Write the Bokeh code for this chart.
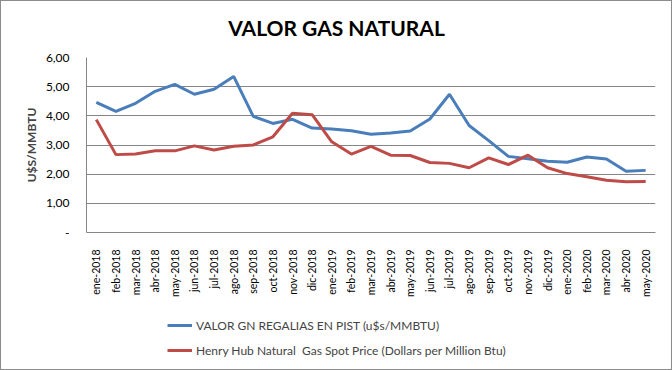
from bokeh.plotting import figure
from bokeh.models import FactorRange, Range1d, FixedTicker, Legend, LegendItem, ColumnDataSource, Label
from bokeh.layouts import column
from bokeh.embed import file_html
from bokeh.resources import INLINE
from math import pi

months = ["ene-2018", "feb-2018", "mar-2018", "abr-2018", "may-2018", "jun-2018", "jul-2018",
          "ago-2018", "sep-2018", "oct-2018", "nov-2018", "dic-2018", "ene-2019", "feb-2019",
          "mar-2019", "abr-2019", "may-2019", "jun-2019", "jul-2019", "ago-2019", "sep-2019",
          "oct-2019", "nov-2019", "dic-2019", "ene-2020", "feb-2020", "mar-2020", "abr-2020",
          "may-2020"]

valor_gn = [4.46, 4.15, 4.43, 4.84, 5.08, 4.74, 4.91, 5.35, 3.98, 3.74, 3.88, 3.58, 3.55, 3.49,
            3.37, 3.41, 3.48, 3.89, 4.74, 3.67, 3.15, 2.61, 2.53, 2.44, 2.41, 2.59, 2.52, 2.10,
            2.13]

henry_hub = [3.87, 2.67, 2.69, 2.80, 2.80, 2.97, 2.83, 2.96, 3.00, 3.28, 4.09, 4.04, 3.11, 2.69,
             2.95, 2.65, 2.64, 2.40, 2.37, 2.22, 2.56, 2.33, 2.65, 2.22, 2.02, 1.91, 1.79, 1.74,
             1.75]

y_ticks = [0, 1, 2, 3, 4, 5, 6]
y_tick_labels = ["-", "1,00", "2,00", "3,00", "4,00", "5,00", "6,00"]

chart_title = "VALOR GAS NATURAL"
y_title = "U$S/MMBTU"
series_names = ["VALOR GN REGALIAS EN PIST (u$s/MMBTU)",
                "Henry Hub Natural  Gas Spot Price (Dollars per Million Btu)"]

FONT = "Lato"
GRAY = "#868686"
BLUE = "#4A7EBB"
RED = "#BE4B48"

src = ColumnDataSource(dict(m=months, a=valor_gn, b=henry_hub))

# title strip (its frame is aligned with the chart frame by the column layout)
pt = figure(width=670, height=40, x_range=Range1d(0, 569), y_range=Range1d(0, 40),
            output_backend="svg", toolbar_location=None,
            x_axis_location=None, y_axis_location=None,
            min_border_left=0, min_border_right=0, min_border_top=0, min_border_bottom=0)
pt.grid.visible = False
pt.outline_line_color = None
pt.add_layout(Label(x=250, y=14, text=chart_title, text_align="center", text_baseline="middle",
                    text_font=FONT, text_font_size="21px", text_font_style="bold",
                    text_color="#000000"))

# main chart
p = figure(width=670, height=259, x_range=FactorRange(*months), y_range=Range1d(0, 6),
           output_backend="svg", toolbar_location=None,
           min_border_left=85, min_border_right=16, min_border_top=16, min_border_bottom=68)

p.x_range.range_padding = 0
p.outline_line_color = None
p.xgrid.grid_line_color = None
p.ygrid.grid_line_color = GRAY
p.ygrid.grid_line_width = 1

p.yaxis.ticker = FixedTicker(ticks=y_ticks)
p.yaxis.major_label_overrides = {t: l for t, l in zip(y_ticks, y_tick_labels)}
p.yaxis.axis_label = y_title
p.yaxis.axis_label_text_font = FONT
p.yaxis.axis_label_text_font_style = "bold"
p.yaxis.axis_label_text_font_size = "12px"
p.yaxis.axis_label_standoff = 4
for ax in (p.xaxis[0], p.yaxis[0]):
    ax.axis_line_color = GRAY
    ax.major_tick_line_color = None
    ax.minor_tick_line_color = None
    ax.major_label_text_font = FONT
    ax.major_label_text_color = "#000000"
p.yaxis.major_label_text_font_size = "12px"
p.yaxis.major_label_standoff = 11
p.xaxis.major_label_text_font_size = "10.5px"
p.xaxis.major_label_orientation = pi / 2
p.xaxis.major_label_standoff = 11

p.line("m", "a", source=src, line_color=BLUE, line_width=3)
p.line("m", "b", source=src, line_color=RED, line_width=3)

# legend strip below the chart (lines drawn out of view so only the legend shows)
pl = figure(width=670, height=69, x_range=FactorRange(*months), y_range=Range1d(100, 101),
            output_backend="svg", toolbar_location=None,
            x_axis_location=None, y_axis_location=None,
            min_border_left=0, min_border_right=0, min_border_top=0, min_border_bottom=0)
pl.grid.visible = False
pl.outline_line_color = None
l1 = pl.line("m", "a", source=src, line_color=BLUE, line_width=3)
l2 = pl.line("m", "b", source=src, line_color=RED, line_width=3)

legend = Legend(items=[LegendItem(label=series_names[0], renderers=[l1]),
                       LegendItem(label=series_names[1], renderers=[l2])],
                location=(81, 9), orientation="vertical",
                label_text_font=FONT, label_text_font_size="12px",
                glyph_width=25, label_standoff=4, spacing=5, padding=0, margin=0,
                border_line_color=None, background_fill_alpha=0)
pl.add_layout(legend, "center")

layout = column(pt, p, pl, spacing=0)
layout.styles = {"border": "1px solid #8c8c8c"}

open("out.html", "w").write(file_html(layout, INLINE))
